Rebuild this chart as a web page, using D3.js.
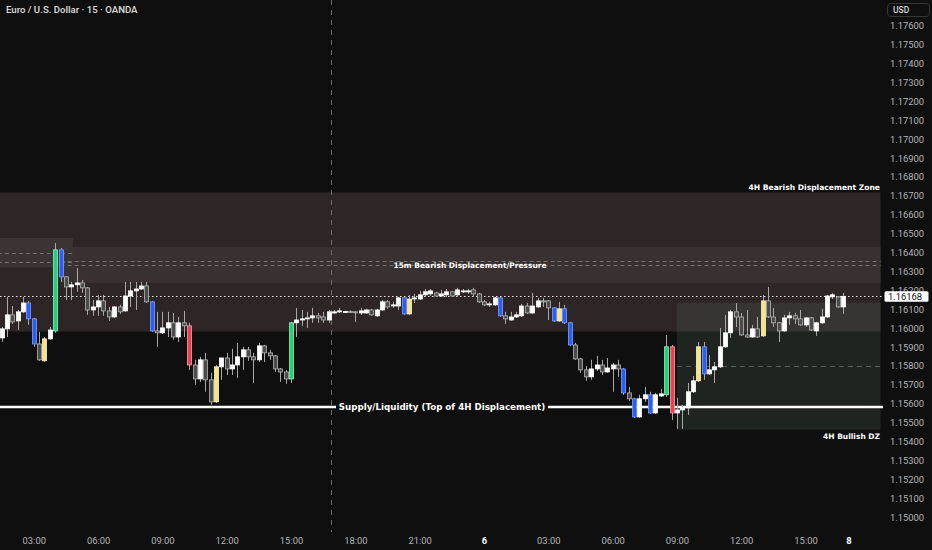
<html>
<head>
<script src="https://d3js.org/d3.v7.min.js"></script>
<style>
body { margin:0; background:#0f0f0f; }
</style>
</head>
<body>
<script>
var width = 932;
var height = 550;

// EURUSD 15m candles, 01:30 on the 5th to 16:45 on the 6th (bar index = position)
var open = [
1.15948,1.15996,1.16070,1.16038,1.16086,1.16133,1.16049,1.15916,1.15827,1.15943,
1.15985,1.16414,1.16271,1.16218,1.16229,1.16239,1.16213,1.16096,1.16112,1.16144,
1.16091,1.16059,1.16112,1.16091,1.16170,1.16197,1.16207,1.16223,1.16139,1.15985,
1.15975,1.16001,1.16028,1.15953,1.16028,1.16012,1.15805,1.15731,1.15832,1.15726,
1.15610,1.15795,1.15842,1.15784,1.15805,1.15848,1.15885,1.15848,1.15832,1.15906,
1.15869,1.15853,1.15784,1.15768,1.15731,1.16028,1.16043,1.16049,1.16054,1.16065,
1.16059,1.16043,1.16080,1.16086,1.16086,1.16088,1.16086,1.16080,1.16080,1.16096,
1.16065,1.16096,1.16139,1.16117,1.16117,1.16160,1.16075,1.16154,1.16154,1.16176,
1.16181,1.16186,1.16170,1.16176,1.16192,1.16176,1.16192,1.16192,1.16202,1.16181,
1.16139,1.16126,1.16123,1.16160,1.16065,1.16043,1.16059,1.16065,1.16117,1.16080,
1.16112,1.16144,1.16144,1.16107,1.16038,1.16102,1.16028,1.15911,1.15837,1.15779,
1.15742,1.15784,1.15805,1.15768,1.15784,1.15805,1.15784,1.15657,1.15626,1.15530,
1.15626,1.15647,1.15551,1.15641,1.15647,1.15901,1.15551,1.15567,1.15578,1.15663,
1.15721,1.15901,1.15758,1.15779,1.15795,1.15901,1.15975,1.16086,1.16059,1.15964,
1.15953,1.15996,1.15959,1.16144,1.16059,1.16028,1.15985,1.16054,1.16065,1.16049,
1.16017,1.16054,1.15985,1.16028,1.16059,1.16165,1.16165,1.16112];
var high = [
1.16006,1.16165,1.16117,1.16096,1.16165,1.16144,1.16054,1.15980,1.15953,1.16006,
1.16451,1.16424,1.16276,1.16244,1.16318,1.16255,1.16218,1.16149,1.16176,1.16176,
1.16112,1.16117,1.16123,1.16244,1.16244,1.16244,1.16244,1.16244,1.16144,1.16086,
1.16086,1.16086,1.16080,1.16059,1.16091,1.16028,1.15832,1.15848,1.15869,1.15763,
1.15805,1.15842,1.15869,1.15890,1.15922,1.15901,1.15901,1.15869,1.15922,1.15911,
1.15885,1.15858,1.15789,1.15779,1.16033,1.16107,1.16096,1.16086,1.16107,1.16080,
1.16086,1.16096,1.16096,1.16107,1.16091,1.16094,1.16091,1.16107,1.16102,1.16102,
1.16102,1.16149,1.16149,1.16139,1.16165,1.16165,1.16176,1.16181,1.16197,1.16207,
1.16207,1.16192,1.16202,1.16207,1.16197,1.16213,1.16207,1.16207,1.16213,1.16186,
1.16149,1.16139,1.16165,1.16165,1.16086,1.16086,1.16086,1.16128,1.16133,1.16186,
1.16160,1.16160,1.16149,1.16112,1.16139,1.16123,1.16033,1.15922,1.15842,1.15800,
1.15832,1.15853,1.15832,1.15842,1.15816,1.15832,1.15789,1.15689,1.15631,1.15647,
1.15689,1.15663,1.15657,1.15678,1.15964,1.15911,1.15631,1.15594,1.15710,1.15747,
1.15927,1.15927,1.15858,1.15821,1.16001,1.16070,1.16096,1.16133,1.16080,1.16096,
1.16017,1.16059,1.16176,1.16218,1.16107,1.16033,1.16070,1.16086,1.16080,1.16096,
1.16059,1.16059,1.16033,1.16102,1.16176,1.16186,1.16170,1.16186];
var low = [
1.15927,1.15953,1.16022,1.15990,1.16080,1.16017,1.15901,1.15827,1.15821,1.15938,
1.15975,1.16244,1.16149,1.16149,1.16192,1.16186,1.16070,1.16065,1.16065,1.16065,
1.16038,1.16054,1.16075,1.16086,1.16112,1.16096,1.16202,1.16133,1.15980,1.15901,
1.15969,1.15953,1.15938,1.15927,1.15953,1.15779,1.15700,1.15715,1.15663,1.15594,
1.15604,1.15726,1.15752,1.15752,1.15737,1.15779,1.15827,1.15710,1.15821,1.15821,
1.15832,1.15768,1.15715,1.15705,1.15710,1.15953,1.16012,1.16001,1.16028,1.16028,
1.16028,1.16028,1.16075,1.16080,1.16080,1.16080,1.16033,1.16070,1.16075,1.16065,
1.16059,1.16091,1.16102,1.16107,1.16096,1.16070,1.16070,1.16133,1.16149,1.16165,
1.16170,1.16165,1.16165,1.16165,1.16165,1.16170,1.16186,1.16181,1.16170,1.16133,
1.16117,1.16112,1.16117,1.16059,1.16022,1.16038,1.16054,1.16059,1.16075,1.16075,
1.16107,1.16112,1.16043,1.16033,1.16033,1.16022,1.15906,1.15832,1.15763,1.15721,
1.15726,1.15774,1.15752,1.15763,1.15663,1.15742,1.15647,1.15615,1.15525,1.15525,
1.15610,1.15546,1.15546,1.15636,1.15636,1.15514,1.15467,1.15467,1.15541,1.15657,
1.15715,1.15726,1.15752,1.15710,1.15789,1.15895,1.15948,1.16006,1.15959,1.15948,
1.15948,1.15948,1.15953,1.16054,1.16006,1.15927,1.15980,1.16017,1.16022,1.16012,
1.16006,1.15985,1.15959,1.16022,1.16054,1.16154,1.16107,1.16075];
var close = [
1.15996,1.16070,1.16033,1.16086,1.16133,1.16049,1.15916,1.15832,1.15943,1.15990,
1.16414,1.16271,1.16218,1.16229,1.16239,1.16213,1.16096,1.16112,1.16144,1.16091,
1.16059,1.16112,1.16086,1.16170,1.16197,1.16207,1.16223,1.16139,1.15985,1.15975,
1.16001,1.16028,1.15953,1.16028,1.16012,1.15805,1.15731,1.15832,1.15726,1.15610,
1.15795,1.15842,1.15784,1.15805,1.15848,1.15885,1.15848,1.15832,1.15906,1.15869,
1.15853,1.15784,1.15768,1.15731,1.16028,1.16043,1.16049,1.16054,1.16065,1.16054,
1.16043,1.16086,1.16086,1.16091,1.16088,1.16086,1.16084,1.16091,1.16096,1.16070,
1.16096,1.16139,1.16112,1.16123,1.16160,1.16075,1.16154,1.16160,1.16176,1.16192,
1.16197,1.16170,1.16181,1.16192,1.16170,1.16202,1.16197,1.16197,1.16181,1.16139,
1.16123,1.16128,1.16160,1.16065,1.16049,1.16059,1.16070,1.16117,1.16080,1.16117,
1.16144,1.16141,1.16107,1.16038,1.16102,1.16028,1.15911,1.15837,1.15779,1.15742,
1.15784,1.15805,1.15768,1.15789,1.15805,1.15784,1.15657,1.15626,1.15530,1.15626,
1.15647,1.15551,1.15647,1.15652,1.15901,1.15551,1.15567,1.15578,1.15663,1.15721,
1.15901,1.15758,1.15779,1.15795,1.15901,1.15975,1.16086,1.16059,1.15964,1.15953,
1.15996,1.15953,1.16144,1.16059,1.16028,1.15985,1.16054,1.16065,1.16049,1.16017,
1.16054,1.15990,1.16028,1.16059,1.16170,1.16176,1.16112,1.16168];

// highlighted candles (bar indices)
var blueBars = [5,6,11,28,75,93,103,105,106,116,118,121,131];
var yellowBars = [8,40,76,104,130,142];
var greenBars = [10,54,124];
var redBars = [35,125];

var lastPrice = 1.16168;

// axis ticks
var priceTicks = [1.176,1.175,1.174,1.173,1.172,1.171,1.170,1.169,1.168,1.167,1.166,1.165,1.164,
  1.163,1.162,1.161,1.160,1.159,1.158,1.157,1.156,1.155,1.154,1.153,1.152,1.151,1.150];
var timeTickBars = [6,18,30,42,54,66,78,90,102,114,126,138,150,158];
var timeTickLabels = ["03:00","06:00","09:00","12:00","15:00","18:00","21:00","6",
  "03:00","06:00","09:00","12:00","15:00","8"];
var sessionBreak = 61.5;

// drawn zones: [fromBar, toBar, top, bottom]
var bearZone4h = [-2, 164, 1.16718, 1.15982];
var bearZone15m = [11, 164, 1.16430, 1.16239];
var bearZoneEarly = [-2, 13.3, 1.16477, 1.16322];
var bullZone4h = [126, 164, 1.16133, 1.15462];
var bearZone15mLines = [1.16356, 1.16334];
var bearZoneEarlyLines = [1.16399, 1.16352];
var bullZoneMid = 1.15797;
var supplyLevel = 1.15585;

var x = d3.scaleLinear().domain([0, 158]).range([1.6, 848.4]);
var y = d3.scaleLinear().domain([1.150, 1.176]).range([517.1, 25.7]);

var svg = d3.select("body").append("svg")
    .attr("width", width)
    .attr("height", height)
    .style("display", "block")
    .style("background", "#0f0f0f");

function zoneRect(z, fill) {
  svg.append("rect")
    .attr("x", x(z[0]))
    .attr("y", y(z[2]))
    .attr("width", x(z[1]) - x(z[0]))
    .attr("height", y(z[3]) - y(z[2]))
    .attr("fill", fill);
}
zoneRect(bearZone4h, "#2e2527");
zoneRect(bearZone15m, "#383031");
zoneRect(bearZoneEarly, "#3c3434");
zoneRect(bullZone4h, "rgba(78,96,84,0.27)");

function dashLine(x0, x1, p, colour, dash) {
  svg.append("line")
    .attr("x1", x0).attr("x2", x1)
    .attr("y1", Math.round(y(p)) + 0.5).attr("y2", Math.round(y(p)) + 0.5)
    .attr("stroke", colour)
    .attr("stroke-dasharray", dash);
}
bearZoneEarlyLines.forEach(function(p) { dashLine(x(bearZoneEarly[0]), x(bearZoneEarly[1]), p, "#77706f", "4,3"); });
bearZone15mLines.forEach(function(p) { dashLine(x(bearZone15m[0]), x(bearZone15m[1]), p, "#77706f", "4,3"); });
dashLine(x(bullZone4h[0]), x(bullZone4h[1]), bullZoneMid, "#5a5e5b", "5,4");

// session break
svg.append("line")
  .attr("x1", Math.round(x(sessionBreak)) + 0.5).attr("x2", Math.round(x(sessionBreak)) + 0.5)
  .attr("y1", 0).attr("y2", 532)
  .attr("stroke", "#6b6b6b")
  .attr("stroke-dasharray", "5,5");

// last price dotted line
dashLine(0, 883, lastPrice, "#e8e8e8", "1.5,2.5");

// supply line with its label in a gap
var supplyY = Math.round(y(supplyLevel));
[[0, 336], [548, 883]].forEach(function(seg) {
  svg.append("line").attr("x1", seg[0]).attr("x2", seg[1])
    .attr("y1", supplyY).attr("y2", supplyY)
    .attr("stroke", "#ffffff").attr("stroke-width", 2.4);
});

// candles
var bars = d3.range(open.length).map(function(i) {
  var kind = "plain";
  if (blueBars.indexOf(i) >= 0) kind = "blue";
  if (yellowBars.indexOf(i) >= 0) kind = "yellow";
  if (greenBars.indexOf(i) >= 0) kind = "green";
  if (redBars.indexOf(i) >= 0) kind = "red";
  return {i: i, o: open[i], h: high[i], l: low[i], c: close[i], kind: kind};
});
var bodyFill = {blue: "#2b5ff0", yellow: "#f4e48c", green: "#22d07a", red: "#e4434f"};
var bodyEdge = {blue: "#7f9dff", yellow: "#fff4c0", green: "#8ef0bd", red: "#f4a2a8"};

var candle = svg.append("g").selectAll("g")
  .data(bars)
  .enter().append("g");
candle.append("line")
  .attr("x1", function(d) { return Math.round(x(d.i)) + 0.5; })
  .attr("x2", function(d) { return Math.round(x(d.i)) + 0.5; })
  .attr("y1", function(d) { return y(d.h); })
  .attr("y2", function(d) { return y(d.l); })
  .attr("stroke", "#a8a8a8")
  .attr("stroke-width", 1);
candle.append("rect")
  .attr("x", function(d) { return Math.round(x(d.i)) - 1.5; })
  .attr("width", 4)
  .attr("y", function(d) { return y(Math.max(d.o, d.c)); })
  .attr("height", function(d) { return Math.max(1, Math.abs(y(d.o) - y(d.c))); })
  .attr("fill", function(d) {
    if (d.kind != "plain") return bodyFill[d.kind];
    return d.c >= d.o ? "#ffffff" : "#4b4b4b";
  })
  .attr("stroke", function(d) {
    if (d.kind != "plain") return bodyEdge[d.kind];
    return d.c >= d.o ? "#ffffff" : "#b5b5b5";
  })
  .attr("stroke-width", 0.8);

// zone labels
var labelFont = "DejaVu Sans, Verdana, sans-serif";
svg.append("text").attr("x", 880).attr("y", 190)
  .attr("text-anchor", "end").attr("fill", "#ffffff")
  .style("font-family", labelFont).style("font-weight", "bold").style("font-size", "7.6px")
  .text("4H Bearish Displacement Zone");
svg.append("text").attr("x", 470).attr("y", 268)
  .attr("text-anchor", "middle").attr("fill", "#ffffff")
  .style("font-family", labelFont).style("font-weight", "bold").style("font-size", "7.5px")
  .text("15m Bearish Displacement/Pressure");
svg.append("text").attr("x", 442).attr("y", supplyY + 3.2)
  .attr("text-anchor", "middle").attr("fill", "#ffffff")
  .style("font-family", labelFont).style("font-weight", "bold").style("font-size", "8.7px")
  .text("Supply/Liquidity (Top of 4H Displacement)");
svg.append("text").attr("x", 880).attr("y", 439)
  .attr("text-anchor", "end").attr("fill", "#ffffff")
  .style("font-family", labelFont).style("font-weight", "bold").style("font-size", "7.5px")
  .text("4H Bullish DZ");

// price scale
var axisFont = "Roboto, sans-serif";
var priceAxis = svg.append("g")
  .attr("transform", "translate(924,0)")
  .call(d3.axisRight(y).tickValues(priceTicks).tickFormat(d3.format(".5f")).tickSize(0).tickPadding(0));
priceAxis.select(".domain").remove();
priceAxis.selectAll("text")
  .attr("text-anchor", "end")
  .attr("fill", "#b6b6b6")
  .style("font-family", axisFont)
  .style("font-size", "9.4px");

// last price tag (sits over the 1.16200 label, as in the original)
svg.append("rect").attr("x", 884.5).attr("y", y(lastPrice) - 5)
  .attr("width", 44).attr("height", 10.5).attr("rx", 1.5)
  .attr("fill", "#ffffff");
svg.append("text").attr("x", 888).attr("y", y(lastPrice) + 3.4)
  .attr("fill", "#111111")
  .style("font-family", axisFont).style("font-size", "9.4px")
  .text(d3.format(".5f")(lastPrice));

// currency box
svg.append("rect").attr("x", 887.5).attr("y", 3.5).attr("width", 42).attr("height", 13).attr("rx", 3)
  .attr("fill", "none").attr("stroke", "#363636");
svg.append("text").attr("x", 893).attr("y", 13.4)
  .attr("fill", "#d6d6d6")
  .style("font-family", axisFont).style("font-size", "8.5px").style("font-weight", 500)
  .text("USD");

// time scale
var timeAxis = svg.append("g")
  .attr("transform", "translate(0,541)")
  .call(d3.axisBottom(x).tickValues(timeTickBars)
    .tickFormat(function(d, i) { return timeTickLabels[i]; })
    .tickSize(0).tickPadding(0));
timeAxis.select(".domain").remove();
timeAxis.selectAll("text")
  .attr("dy", "0.32em")
  .attr("fill", function(d, i) { return timeTickLabels[i].length < 3 ? "#ffffff" : "#b6b6b6"; })
  .style("font-weight", function(d, i) { return timeTickLabels[i].length < 3 ? "bold" : "normal"; })
  .style("font-family", axisFont)
  .style("font-size", "9.4px");

// title
svg.append("text").attr("x", 6).attr("y", 12.5)
  .attr("fill", "#d4d4d4")
  .style("font-family", axisFont).style("font-size", "9.6px").style("font-weight", 600)
  .text("Euro / U.S. Dollar \u00b7 15 \u00b7 OANDA");
</script>
</body>
</html>
